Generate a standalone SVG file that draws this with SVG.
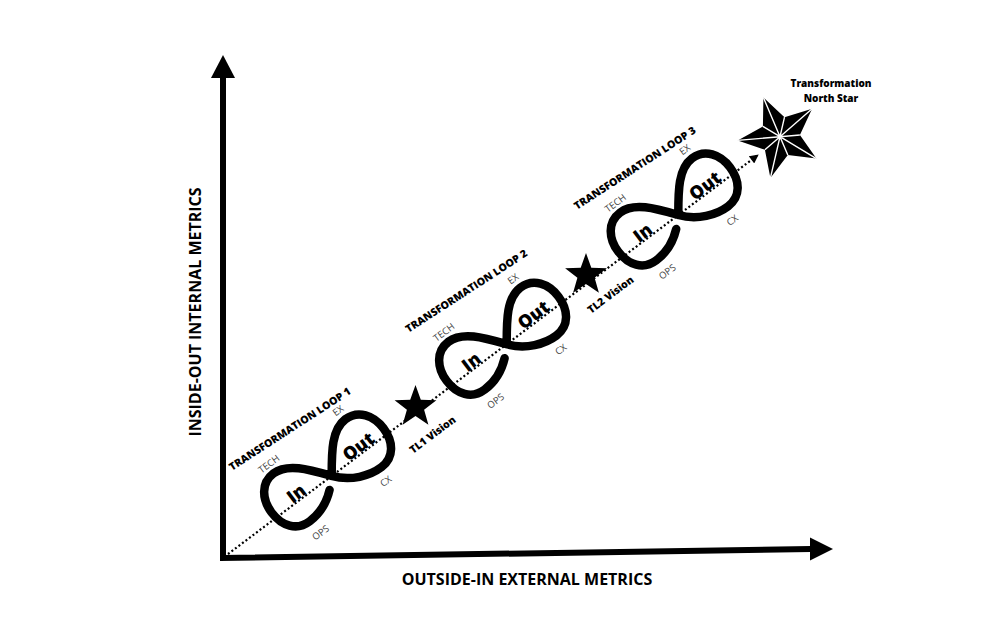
<svg xmlns="http://www.w3.org/2000/svg" width="1002" height="622" viewBox="0 0 1002 622">
<defs>
<style>
.axis{fill:none;stroke:#000;stroke-width:6;stroke-linejoin:miter}
.head{fill:#000}
.dots{fill:none;stroke:#000;stroke-width:2.2;stroke-dasharray:2 2.4}
.loop{fill:none;stroke:#000;stroke-width:8.5;stroke-linecap:round;stroke-linejoin:round}
.io{font-family:"Open Sans","Liberation Sans",sans-serif;font-weight:800;font-size:18px;fill:#000;text-anchor:middle}
.tag{font-family:"Open Sans","Liberation Sans",sans-serif;font-weight:400;font-size:9.5px;fill:#444;text-anchor:middle}
.tl{font-family:"Open Sans","Liberation Sans",sans-serif;font-weight:800;font-size:10.5px;fill:#000}
.vis{font-family:"Open Sans","Liberation Sans",sans-serif;font-weight:800;font-size:10.5px;fill:#000}
.ns{font-family:"Open Sans","Liberation Sans",sans-serif;font-weight:800;font-size:10px;fill:#000;text-anchor:middle}
.axlabel{font-family:"Open Sans","Liberation Sans",sans-serif;font-weight:700;font-size:16px;fill:#000;text-anchor:middle}
.star{fill:#000}
.facet{stroke:#fff;stroke-width:1.4;fill:none}
</style>
<marker id="dotArrow" viewBox="0 0 10 10" refX="9" refY="5" markerUnits="userSpaceOnUse" markerWidth="10" markerHeight="9" orient="auto">
<path d="M0,0 L10,5 L0,10 z" fill="#000"/>
</marker>
<path id="fig8" class="loop" d="M0,0 C15,-20 28,-37 45,-37 C61,-37 70,-23 70,-7 C70,10 61,23 45,23 C31,23 12,16 0,0 C-15,-20 -28,-37 -45,-37 C-61,-37 -70,-23 -70,-7 C-70,10 -61,23 -45,23 C-34.5,23 -21.2,19.2 -10.1,9.9"/>
</defs>
<rect width="1002" height="622" fill="#fff"/>

<g id="connectors">
<path class="dots" d="M228,554 L758,155" marker-end="url(#dotArrow)"/>
</g>

<g id="axes">
<path class="axis" d="M223,76 L223,558 L811,549"/>
<polygon class="head" points="223,55 211,78 235,78"/>
<polygon class="head" points="833,549 810,537.5 810,560.5"/>
<text class="axlabel" transform="translate(201,312) rotate(-90)">INSIDE-OUT INTERNAL METRICS</text>
<text class="axlabel" x="527" y="585">OUTSIDE-IN EXTERNAL METRICS</text>
</g>

<g id="loop1">
<g transform="translate(331.7,475.9) rotate(-37)">
<use href="#fig8"/>
<text class="io" x="-39" y="-1">In</text>
<text class="io" x="39" y="-1">Out</text>
<text class="tag" x="-43" y="-44">TECH</text>
<text class="tag" x="44.5" y="-45">EX</text>
<text class="tag" x="40" y="40">CX</text>
<text class="tag" x="-43" y="42">OPS</text>
</g>
<text class="tl" transform="translate(232,471) rotate(-33)">TRANSFORMATION LOOP 1</text>
</g>

<g id="loop2">
<g transform="translate(506.7,344.2) rotate(-37)">
<use href="#fig8"/>
<text class="io" x="-39" y="-1">In</text>
<text class="io" x="39" y="-1">Out</text>
<text class="tag" x="-43" y="-44">TECH</text>
<text class="tag" x="44.5" y="-45">EX</text>
<text class="tag" x="40" y="40">CX</text>
<text class="tag" x="-43" y="42">OPS</text>
</g>
<text class="tl" transform="translate(408.5,333) rotate(-33)">TRANSFORMATION LOOP 2</text>
</g>

<g id="loop3">
<g transform="translate(678.3,215) rotate(-37)">
<use href="#fig8"/>
<text class="io" x="-39" y="-1">In</text>
<text class="io" x="39" y="-1">Out</text>
<text class="tag" x="-43" y="-44">TECH</text>
<text class="tag" x="44.5" y="-45">EX</text>
<text class="tag" x="40" y="40">CX</text>
<text class="tag" x="-43" y="42">OPS</text>
</g>
<text class="tl" transform="translate(577,210) rotate(-33)">TRANSFORMATION LOOP 3</text>
</g>

<g id="tl1-vision">
<polygon class="star" transform="translate(415.5,407)" points="0,-22 5.3,-7.3 20.9,-6.8 8.6,2.8 12.9,17.8 0,9 -12.9,17.8 -8.6,2.8 -20.9,-6.8 -5.3,-7.3"/>
<text class="vis" transform="translate(413,454) rotate(-37)">TL1 Vision</text>
</g>

<g id="tl2-vision">
<polygon class="star" transform="translate(586,275)" points="0,-22 5.3,-7.3 20.9,-6.8 8.6,2.8 12.9,17.8 0,9 -12.9,17.8 -8.6,2.8 -20.9,-6.8 -5.3,-7.3"/>
<text class="vis" transform="translate(591,314) rotate(-37)">TL2 Vision</text>
</g>

<g id="north-star">
<polygon class="star" points="763.4,97.6 784.5,117.2 812.1,108.8 799.9,135 816.4,158.6 787.8,155.1 770.4,178.1 764.9,149.8 737.7,140.4 762.9,126.4"/>
<path class="facet" d="M780,136.7 L763.4,97.6 M780,136.7 L784.5,117.2 M780,136.7 L812.1,108.8 M780,136.7 L799.9,135 M780,136.7 L816.4,158.6 M780,136.7 L787.8,155.1 M780,136.7 L770.4,178.1 M780,136.7 L764.9,149.8 M780,136.7 L737.7,140.4 M780,136.7 L762.9,126.4"/>
<text class="ns" x="831" y="86.5">Transformation</text>
<text class="ns" x="831" y="101.5">North Star</text>
</g>
</svg>
